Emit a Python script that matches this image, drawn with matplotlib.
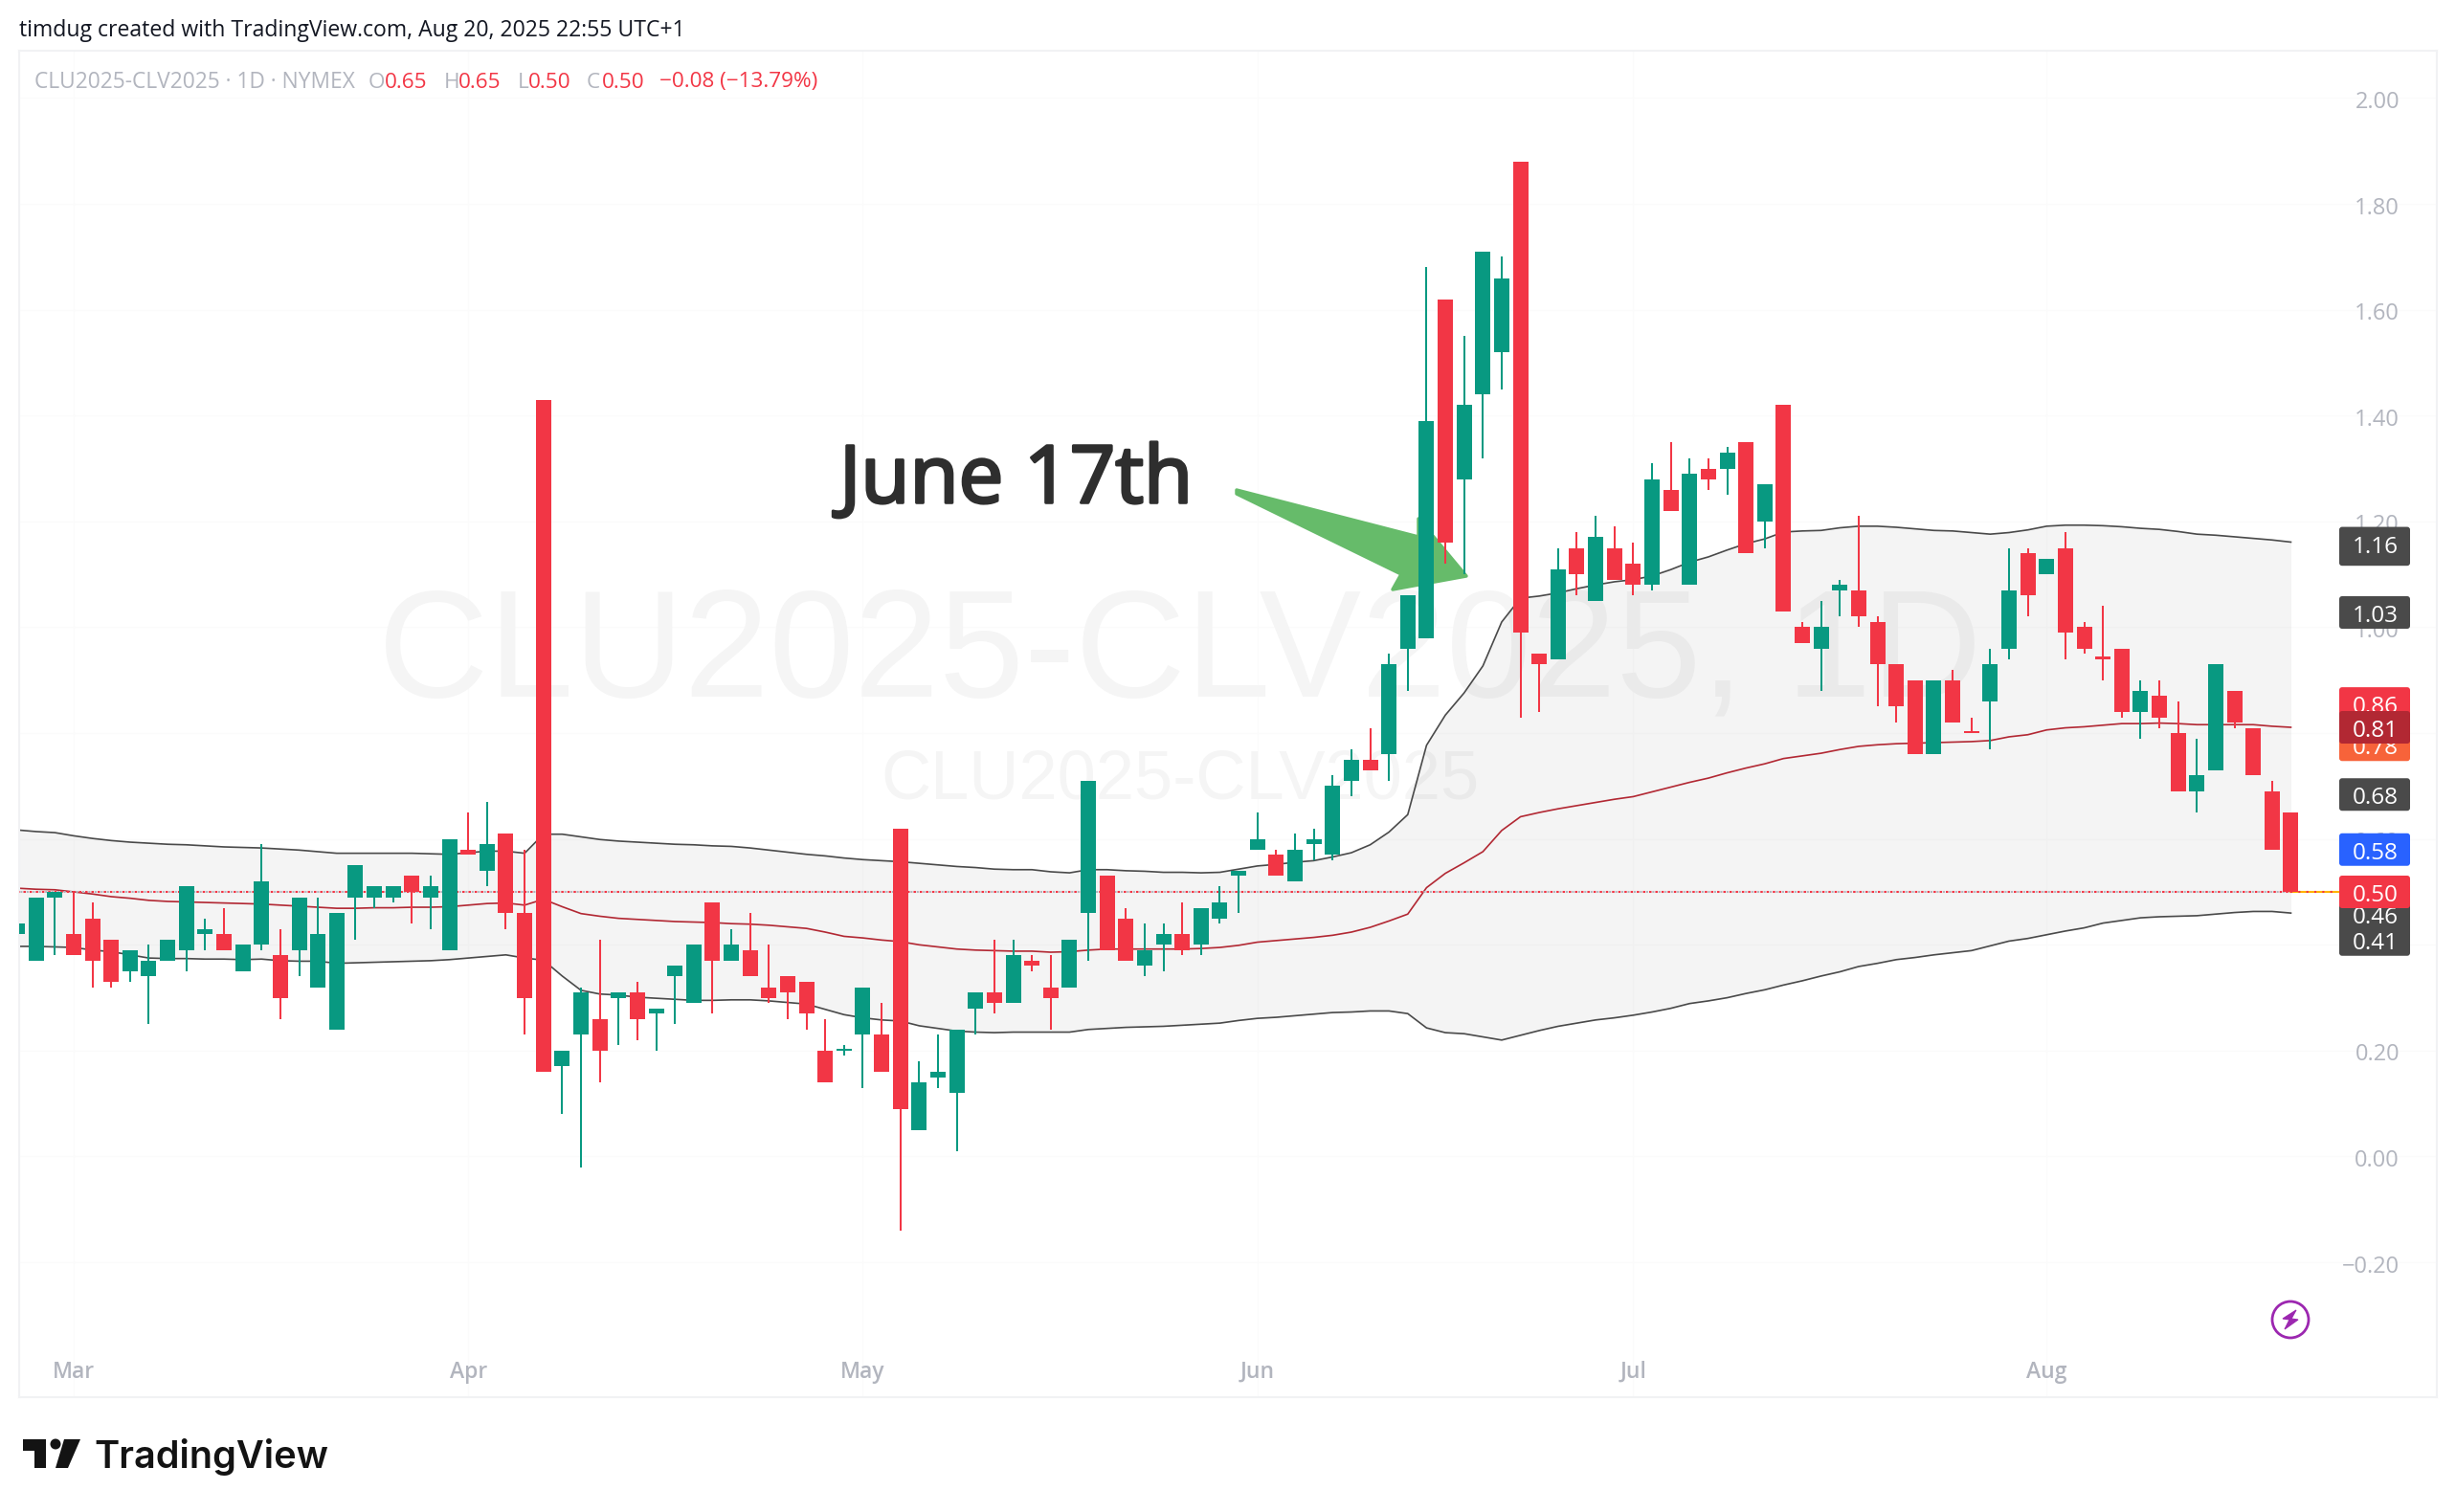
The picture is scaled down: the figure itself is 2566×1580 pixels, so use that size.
import numpy as np
import matplotlib
matplotlib.use('Agg')
import matplotlib.pyplot as plt
import matplotlib.patheffects as pe
from matplotlib.patches import FancyBboxPatch, Polygon, Circle

W, H = 2566, 1580

# Daily candles, left to right
opens = [.42,.37,.49,.42,.45,.41,.35,.34,.37,.39,.42,.42,.35,.40,.38,.39,.32,.24,.49,.49,
         .49,.53,.49,.39,.58,.54,.61,.46,1.43,.17,.23,.26,.30,.31,.27,.34,.29,.48,.37,.39,
         .32,.34,.33,.20,.20,.23,.23,.62,.05,.15,.12,.28,.31,.29,.37,.32,.32,.46,.53,.45,
         .36,.40,.42,.40,.45,.53,.58,.57,.52,.59,.57,.71,.75,.76,.96,.98,1.62,1.28,1.44,1.52,
         1.88,.95,.94,1.15,1.05,1.15,1.12,1.08,1.26,1.08,1.30,1.30,1.35,1.20,1.42,1.00,.96,1.07,1.07,1.01,
         .93,.90,.76,.90,.801,.86,.96,1.14,1.10,1.15,1.00,.941,.96,.84,.87,.80,.69,.73,.88,.81,
         .69,.65]
highs = [.44,.49,.50,.50,.48,.41,.39,.40,.41,.51,.45,.47,.40,.59,.43,.49,.49,.46,.55,.51,
         .51,.53,.53,.60,.65,.67,.61,.58,1.43,.20,.32,.41,.31,.33,.28,.36,.40,.48,.43,.46,
         .40,.34,.33,.26,.21,.32,.29,.62,.18,.23,.24,.31,.41,.41,.38,.38,.41,.71,.53,.47,
         .44,.44,.48,.47,.51,.54,.65,.58,.61,.62,.72,.77,.81,.95,1.06,1.68,1.62,1.55,1.71,1.70,
         1.88,.95,1.15,1.18,1.21,1.19,1.16,1.31,1.35,1.32,1.32,1.34,1.35,1.27,1.42,1.01,1.05,1.09,1.21,1.02,
         .93,.90,.90,.92,.83,.96,1.15,1.15,1.13,1.18,1.01,1.04,.96,.90,.90,.86,.79,.93,.88,.81,
         .71,.65]
lows = [.42,.37,.38,.38,.32,.32,.33,.25,.37,.35,.39,.39,.35,.39,.26,.34,.32,.24,.41,.47,
        .48,.44,.43,.39,.57,.51,.43,.23,.16,.08,-.02,.14,.21,.22,.20,.25,.29,.27,.37,.34,
        .29,.26,.24,.14,.19,.13,.16,-.14,.05,.13,.01,.23,.27,.29,.35,.24,.32,.37,.39,.37,
        .34,.35,.38,.38,.44,.46,.58,.53,.52,.56,.56,.68,.73,.71,.88,.98,1.12,1.10,1.32,1.45,
        .83,.84,.94,1.06,1.05,1.09,1.06,1.07,1.22,1.08,1.26,1.25,1.14,1.15,1.03,.97,.88,1.02,1.00,.85,
        .82,.76,.76,.82,.80,.77,.94,1.02,1.10,.94,.95,.90,.83,.79,.81,.69,.65,.73,.81,.72,
        .58,.50]
closes = [.44,.49,.50,.38,.37,.33,.39,.37,.41,.51,.43,.39,.40,.52,.30,.49,.42,.46,.55,.51,
          .51,.50,.51,.60,.57,.59,.46,.30,.16,.20,.31,.20,.31,.26,.28,.36,.40,.37,.40,.34,
          .30,.31,.27,.14,.20,.32,.16,.09,.14,.16,.24,.31,.29,.38,.36,.30,.41,.71,.39,.37,
          .39,.42,.39,.47,.48,.54,.60,.53,.58,.60,.70,.75,.73,.93,1.06,1.39,1.16,1.42,1.71,1.66,
          .99,.93,1.11,1.10,1.17,1.09,1.08,1.28,1.22,1.29,1.28,1.33,1.14,1.27,1.03,.97,1.00,1.08,1.02,.93,
          .85,.76,.90,.82,.80,.93,1.07,1.06,1.13,.99,.96,.94,.84,.88,.83,.69,.72,.93,.82,.72,
          .58,.50]

# Bollinger bands, one value per bar
bb_upper = [.617,.614,.612,.606,.601,.597,.594,.592,.590,.589,.587,.585,.584,.583,.581,.579,.576,.573,.573,.573,
            .573,.573,.572,.571,.574,.577,.577,.573,.609,.609,.604,.599,.596,.594,.592,.590,.589,.587,.586,.583,
            .579,.575,.571,.568,.564,.561,.559,.557,.554,.551,.548,.546,.543,.542,.542,.538,.536,.542,.542,.540,
            .539,.537,.537,.536,.537,.543,.549,.552,.556,.559,.566,.574,.589,.613,.646,.777,.834,.876,.927,1.010,
            1.055,1.059,1.065,1.073,1.080,1.086,1.090,1.097,1.109,1.123,1.133,1.146,1.158,1.167,1.180,1.182,1.183,1.188,1.191,1.191,
            1.189,1.186,1.183,1.182,1.179,1.176,1.179,1.184,1.191,1.193,1.193,1.192,1.190,1.187,1.185,1.181,1.176,1.174,1.171,1.168,
            1.165,1.161]
bb_mid = [.507,.505,.504,.500,.496,.491,.488,.484,.482,.481,.480,.479,.478,.477,.475,.473,.471,.469,.469,.470,
          .470,.471,.471,.472,.475,.478,.479,.475,.486,.472,.459,.454,.450,.448,.446,.444,.443,.442,.440,.439,
          .437,.434,.431,.424,.416,.413,.409,.406,.400,.396,.392,.390,.389,.388,.388,.386,.387,.390,.392,.392,
          .392,.392,.392,.393,.395,.399,.405,.408,.411,.414,.418,.424,.433,.445,.458,.508,.535,.555,.576,.616,
          .642,.650,.657,.663,.669,.675,.680,.689,.698,.707,.715,.725,.734,.742,.752,.757,.762,.769,.775,.778,
          .780,.781,.782,.783,.784,.786,.793,.797,.806,.810,.812,.815,.818,.818,.819,.818,.816,.816,.816,.816,
          .813,.811]
bb_lower = [.397,.397,.396,.395,.390,.387,.381,.375,.374,.374,.373,.373,.372,.373,.370,.369,.369,.365,.366,.367,
            .368,.369,.370,.372,.375,.378,.381,.375,.371,.341,.314,.307,.305,.301,.299,.297,.295,.295,.296,.296,
            .294,.291,.288,.278,.268,.262,.258,.256,.247,.242,.237,.235,.234,.235,.235,.235,.235,.240,.242,.244,
            .245,.246,.248,.250,.252,.257,.261,.263,.266,.269,.272,.273,.275,.275,.270,.243,.234,.232,.226,.220,
            .229,.238,.246,.252,.258,.262,.267,.273,.280,.289,.294,.300,.308,.315,.324,.332,.341,.349,.359,.365,
            .372,.376,.381,.385,.389,.398,.407,.412,.419,.426,.432,.441,.446,.451,.453,.454,.455,.458,.461,.463,
            .463,.460]

last_price = 0.50
price_ticks = [2.00, 1.80, 1.60, 1.40, 1.20, 1.00, 0.80, 0.60, 0.40, 0.20, 0.00, -0.20]
month_labels = ['Mar', 'Apr', 'May', 'Jun', 'Jul', 'Aug']
month_bars = [3, 24, 45, 66, 86, 108]

# drawing order = list order, the hidden blank tag thickens the 1.16 box
tag_values = [1.147, 1.159, 1.028, 0.856, 0.778, 0.811, 0.684, 0.58, 0.41, 0.458, 0.50]
tag_texts = ['', '1.16', '1.03', '0.86', '0.78', '0.81', '0.68', '0.58', '0.41', '0.46', '0.50']
tag_colors = ['#4a4a4a', '#4a4a4a', '#4a4a4a', '#f23645', '#f7633a', '#b22833',
              '#4a4a4a', '#2962ff', '#4a4a4a', '#4a4a4a', '#f23645']

GREEN = '#089981'
RED = '#f23645'
GREY = '#b2b5be'
UI_FONT = 'Open Sans'

fig = plt.figure(figsize=(W / 100, H / 100), dpi=100, facecolor='white')

# pane in pixels: x 20..2546, y 53..1460
ax = fig.add_axes([20 / W, 1 - 1460 / H, (2546 - 20) / W, (1460 - 53) / H])
ax.set_xlim(0.098, 128.77)
ax.set_ylim(-0.4548, 2.0895)
ax.set_xticks([])
ax.set_yticks([])
for s in ax.spines.values():
    s.set_color('#f1f2f4')
    s.set_linewidth(1.5)

# overlay in pixel coordinates for everything that is not a mark
ov = fig.add_axes([0, 0, 1, 1], zorder=5)
ov.set_xlim(0, W)
ov.set_ylim(H, 0)
ov.axis('off')
ov.patch.set_alpha(0)

bars = np.arange(len(closes))
o = np.array(opens)
c = np.array(closes)
colors = [GREEN if cl >= op else RED for op, cl in zip(opens, closes)]

# grid is almost invisible
for m in month_bars:
    ax.axvline(m, color='#fbfbfb', lw=1, zorder=0)
for p in price_ticks:
    ax.axhline(p, color='#fbfbfb', lw=1, zorder=0)

# watermark
ax.text(1233, 686, 'CLU2025-CLV2025, 1D', transform=ov.transData, fontsize=115, family='Liberation Sans',
        color='#f5f5f5', ha='center', va='center', zorder=0.5)
ax.text(1233, 816, 'CLU2025-CLV2025', transform=ov.transData, fontsize=52, family='Liberation Sans',
        color='#f5f5f5', ha='center', va='center', zorder=0.5)

# bands
ax.fill_between(bars, bb_lower, bb_upper, color='black', alpha=0.045, lw=0, zorder=1)
ax.plot(bars, bb_upper, color='#4a4a4a', lw=1.2, zorder=2)
ax.plot(bars, bb_lower, color='#4a4a4a', lw=1.2, zorder=2)
ax.plot(bars, bb_mid, color='#b22833', lw=1.2, zorder=2)

# last price line
ax.plot([0, bars[-1]], [last_price, last_price], color=GREY, lw=1.5, ls=(1.5, (1, 2.1)), zorder=2.5)
ax.plot([0, bars[-1]], [last_price, last_price], color=RED, lw=1.5, ls=(0, (1.2, 1.9)), zorder=2.6)
ax.plot([bars[-1], 123.5], [last_price, last_price], color='#ffb300', lw=1.5, zorder=2.5)
ax.plot([bars[-1], 123.5], [last_price, last_price], color=RED, lw=1.5, ls=(0, (1, 3)), zorder=2.6)

# green arrow sits under the candles
arrow_px = [(1292, 512), (1482, 561), (1482, 542), (1532, 602), (1455, 616), (1464, 600), (1292, 516)]
ax.add_patch(Polygon(arrow_px, closed=True, transform=ov.transData, fc='#66bb6a', ec='#66bb6a', lw=2.5,
                     joinstyle='round', zorder=2.8))

# candles
ax.vlines(bars, lows, highs, colors=colors, lw=1.45, capstyle='butt', zorder=3)
ax.bar(bars, np.maximum(np.abs(c - o), 0.004), bottom=np.minimum(o, c), width=0.815, color=colors, lw=0, zorder=4)


def y_px(v):
    # price to pixel row through the axes scale
    return H - ax.transData.transform((0, v))[1]


def x_px(i):
    return ax.transData.transform((i, 0))[0]


# price axis labels
for p in price_ticks:
    lab = f'{p:.2f}'.replace('-', '\u2212')
    ov.text(2507, y_px(p) + 1.5, lab, fontsize=17, family=UI_FONT, color=GREY, ha='right', va='center_baseline', zorder=1)

for m, lab in zip(month_bars, month_labels):
    ov.text(x_px(m), 1434, lab, fontsize=16.5, family=UI_FONT, color=GREY, ha='center', va='center', weight='semibold')

# value tags
for i, (v, t, col) in enumerate(zip(tag_values, tag_texts, tag_colors)):
    yc = y_px(v)
    ov.add_patch(FancyBboxPatch((2444 + 3, yc - 17 + 3), 74 - 6, 34 - 6, boxstyle='round,pad=3', fc=col, ec='none',
                                zorder=2 + i))
    ov.text(2506, yc + 1, t, fontsize=17.5, family=UI_FONT, color='white', ha='right', va='center_baseline', zorder=2 + i)

# header and legend
ov.text(20, 32, 'timdug created with TradingView.com, Aug 20, 2025 22:55 UTC+1', fontsize=16.6, family=UI_FONT,
        color='#131722', va='center')
ov.text(36, 86, 'CLU2025-CLV2025 \u00b7 1D \u00b7 NYMEX', fontsize=16.4, family=UI_FONT, color=GREY, va='center')
legend_x = [385, 402, 464, 479, 541, 552, 613, 629, 689]
legend_t = ['O', '0.65', 'H', '0.65', 'L', '0.50', 'C', '0.50', '\u22120.08 (\u221213.79%)']
legend_c = [GREY, RED, GREY, RED, GREY, RED, GREY, RED, RED]
for lx, lt, lc in zip(legend_x, legend_t, legend_c):
    ov.text(lx, 86, lt, fontsize=16.2, family=UI_FONT, color=lc, va='center')

# annotation
ov.text(877, 504, 'June 17th', fontsize=60, family=UI_FONT, color='#2e2e2e', va='center',
        path_effects=[pe.withStroke(linewidth=2.2, foreground='#2e2e2e')])

# lightning badge
ov.add_patch(Circle((2393, 1379), 19, fc='white', ec='#9c27b0', lw=2.0))
ov.add_patch(Polygon([(2399, 1369), (2385, 1378), (2392, 1379), (2387, 1389), (2401, 1379), (2394, 1378)],
                     closed=True, fc='#9c27b0', ec='#9c27b0', lw=0.8))

# TradingView logo
logo = '#131313'
ov.add_patch(Polygon([(24, 1504), (48, 1504), (48, 1534), (36, 1534), (36, 1516), (24, 1516)], closed=True, fc=logo, lw=0))
ov.add_patch(Circle((58, 1509), 5.5, fc=logo, lw=0))
ov.add_patch(Polygon([(67, 1504), (84, 1504), (71, 1534), (58, 1534)], closed=True, fc=logo, lw=0))
ov.text(98, 1522, 'TradingView', fontsize=28.6, family='Inter', weight='semibold', color=logo, va='center')

fig.savefig('out.png', dpi=100)
